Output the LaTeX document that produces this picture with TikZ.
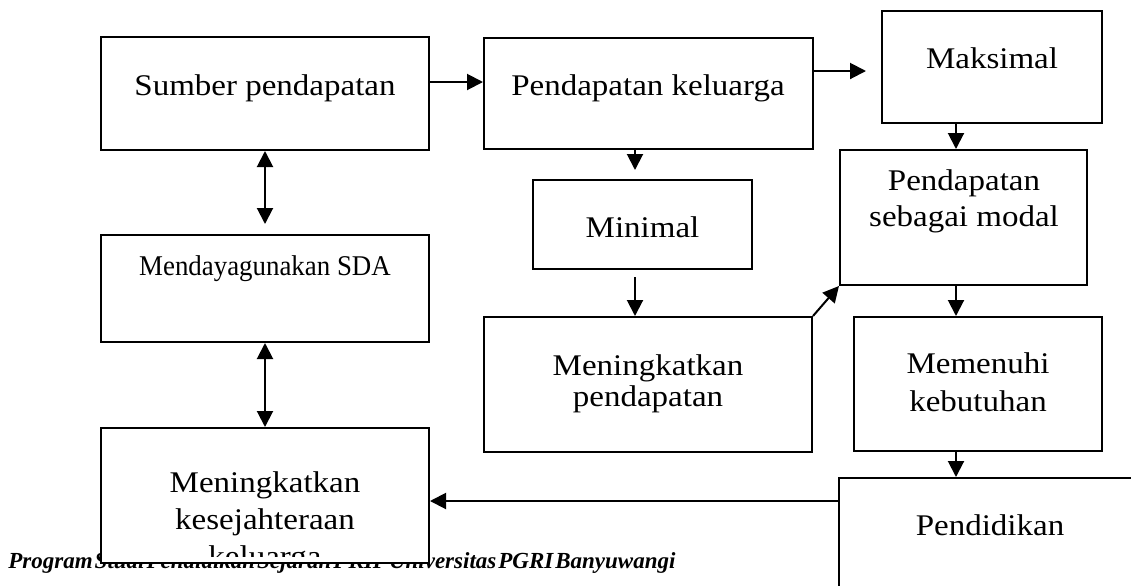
\documentclass[tikz,border=0pt]{standalone}
\usepackage{fontspec}
\setmainfont{Liberation Serif}[FakeStretch=1.1]
\newfontfamily\sdafont{Liberation Serif}
\newfontfamily\footfont{Liberation Serif}
\usepackage{graphicx}
\usetikzlibrary{arrows.meta}

\begin{document}
\begin{tikzpicture}[x=0.5pt, y=-0.5pt,
    box/.style={draw, line width=1pt, fill=white, inner sep=0pt},
    txt/.style={anchor=base, inner sep=0pt, align=center, font=\fontsize{15}{17.4}\selectfont},
    arr/.style={line width=1pt, -{Triangle[length=8pt, width=8pt]}},
    dbl/.style={line width=1pt, {Triangle[length=8pt, width=8pt]}-{Triangle[length=8pt, width=8pt]}}]
    \useasboundingbox (0,0) rectangle (1131,585);
    \clip (0,0) rectangle (1131,585);

    % Footer of the page
    \node[anchor=base west, inner sep=0pt, font=\footfont\bfseries\itshape\fontsize{11.5}{13}\selectfont] (footer) at (8,568)
        {\spaceskip=1pt Program Studi Pendidikan Sejarah FKIP Universitas PGRI Banyuwangi};

    % Boxes
    \node[box, minimum width=164pt, minimum height=56.5pt] (sumber) at (265,93.5) {};
    \node[box, minimum width=164.5pt, minimum height=55.5pt] (keluarga) at (648.5,93.5) {};
    \node[box, minimum width=110pt, minimum height=56pt] (maks) at (992,67) {};
    \node[box, minimum width=109.5pt, minimum height=44.5pt] (minimal) at (642.5,224.5) {};
    \node[box, minimum width=123.5pt, minimum height=67.5pt] (modal) at (963.5,217.5) {};
    \node[box, minimum width=164pt, minimum height=53.5pt] (sda) at (265,288.5) {};
    \node[box, minimum width=164pt, minimum height=67.5pt] (naik) at (648,384.5) {};
    \node[box, minimum width=124pt, minimum height=67pt] (penuhi) at (978,384) {};
    \node[box, minimum width=164pt, minimum height=67.5pt] (sejahtera) at (265,495.5) {};
    \node[box, minimum width=151pt, minimum height=86pt] (didik) at (990,564) {};

    % Texts (multi-line ones sit on their last line)
    \node[txt] (sumber-t) at (265,95) {Sumber pendapatan};
    \node[txt] (keluarga-t) at (648,95) {Pendapatan keluarga};
    \node[txt] (maks-t) at (992,68) {Maksimal};
    \node[txt] (minimal-t) at (642.5,237) {Minimal};
    \node[txt] (modal-t) at (964,226) {Pendapatan\\[0.6pt] sebagai modal};
    \node[txt, font=\sdafont\fontsize{14.3}{17}\selectfont] (sda-t) at (265,275) {\scalebox{0.94}[1]{Mendayagunakan SDA}};
    \node[txt] (naik-t) at (648,406) {Meningkatkan\\[-1.9pt] pendapatan};
    \node[txt] (penuhi-t) at (978,411) {Memenuhi\\[1.6pt] kebutuhan};
    \node[txt] (didik-t) at (990,535) {Pendidikan};
    \begin{scope}
        \clip (101,428) rectangle (429,556);
        \node[txt] (sejahtera-t) at (265,566) {Meningkatkan\\[1.1pt] kesejahteraan\\[1.1pt] keluarga};
    \end{scope}

    % Arrows
    \draw[arr] ([yshift=5.75pt]sumber.east) -- ([yshift=5.75pt]keluarga.west);
    \draw[arr] ([yshift=11.25pt]keluarga.east) -- ([xshift=-7.5pt,yshift=-2pt]maks.west);
    \draw[arr] ([xshift=-6.75pt]keluarga.south) -- ([xshift=-3.75pt,yshift=4.5pt]minimal.north);
    \draw[arr] ([xshift=-3.75pt,yshift=-3.5pt]minimal.south) -- ([xshift=-6.5pt]naik.north);
    \draw[arr] (naik.north east) -- (modal.south west);
    \draw[arr] ([xshift=-18pt]maks.south) -- ([xshift=-3.75pt]modal.north);
    \draw[arr] ([xshift=-3.75pt]modal.south) -- ([xshift=-11pt]penuhi.north);
    \draw[arr] ([xshift=-11pt]penuhi.south) -- ([xshift=-17pt]didik.north);
    \draw[arr] ([yshift=31.5pt]didik.west) -- ([yshift=-2.75pt]sejahtera.east);
    \draw[dbl] (sumber.south) -- ([yshift=5pt]sda.north);
    \draw[dbl] (sda.south) -- (sejahtera.north);
\end{tikzpicture}
\end{document}
